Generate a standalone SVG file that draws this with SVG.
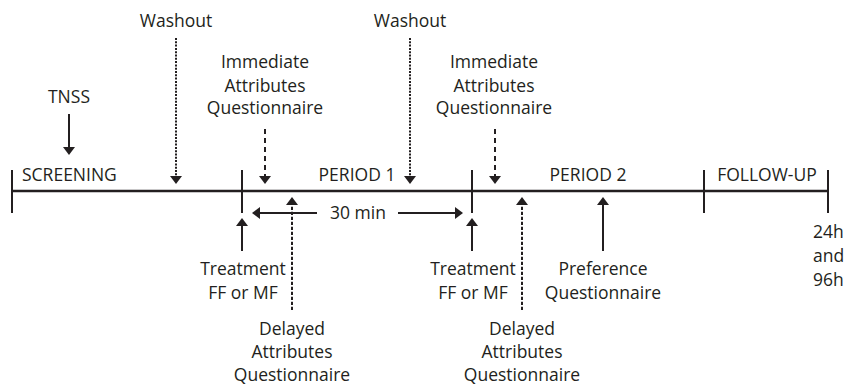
<svg xmlns="http://www.w3.org/2000/svg" width="847" height="388" viewBox="0 0 847 388">
<style>
text{font-family:"Open Sans","Noto Sans","Liberation Sans",sans-serif;font-size:17.5px;fill:#231f20}
.m{text-anchor:middle}
.ln{stroke:#231f20;stroke-width:2;fill:none}
.tl{stroke:#231f20;stroke-width:2.3;fill:none}
.dot{stroke-dasharray:2 1.3}
.dash{stroke-dasharray:5 4}
.dash2{stroke-dasharray:3.3 1.7}
</style>
<defs>
<marker id="ah" viewBox="0 0 8 12" markerWidth="8" markerHeight="12" refX="2" refY="6" orient="auto" markerUnits="userSpaceOnUse">
<path d="M0,0 L8,6 L0,12 z" fill="#231f20"/>
</marker>
</defs>
<g id="timeline">
<line class="tl" x1="12" y1="191" x2="828" y2="191"/>
<line class="ln" x1="12" y1="170" x2="12" y2="213"/>
<line class="ln" x1="242" y1="170" x2="242" y2="213"/>
<line class="ln" x1="472" y1="170" x2="472" y2="213"/>
<line class="ln" x1="704" y1="170" x2="704" y2="213"/>
<line class="ln" x1="828" y1="170" x2="828" y2="213"/>
</g>
<g id="phases">
<text x="22" y="181">SCREENING</text>
<text class="m" x="357" y="181">PERIOD 1</text>
<text class="m" x="588" y="181">PERIOD 2</text>
<text class="m" x="767" y="181">FOLLOW-UP</text>
</g>
<g id="tnss"><text class="m" x="69" y="103">TNSS</text></g>
<g id="washout1"><text class="m" x="176" y="27">Washout</text></g>
<g id="washout2"><text class="m" x="410" y="27">Washout</text></g>
<g id="immediate1">
<text class="m" x="265" y="68">Immediate</text>
<text class="m" x="265" y="92">Attributes</text>
<text class="m" x="265" y="114">Questionnaire</text>
</g>
<g id="immediate2">
<text class="m" x="494" y="68">Immediate</text>
<text class="m" x="494" y="92">Attributes</text>
<text class="m" x="494" y="114">Questionnaire</text>
</g>
<g id="treatment1">
<text class="m" x="243" y="275">Treatment</text>
<text class="m" x="243" y="299">FF or MF</text>
</g>
<g id="treatment2">
<text class="m" x="473" y="275">Treatment</text>
<text class="m" x="473" y="299">FF or MF</text>
</g>
<g id="delayed1">
<text class="m" x="292" y="335">Delayed</text>
<text class="m" x="292" y="358">Attributes</text>
<text class="m" x="292" y="381">Questionnaire</text>
</g>
<g id="delayed2">
<text class="m" x="522" y="335">Delayed</text>
<text class="m" x="522" y="358">Attributes</text>
<text class="m" x="522" y="381">Questionnaire</text>
</g>
<g id="preference">
<text class="m" x="603" y="275">Preference</text>
<text class="m" x="603" y="299">Questionnaire</text>
</g>
<g id="followup-times">
<text x="813" y="238">24h</text>
<text x="813" y="262">and</text>
<text x="813" y="286">96h</text>
</g>
<g id="duration"><text class="m" x="358" y="219">30 min</text></g>
<g id="connectors">
<line class="ln" x1="69" y1="114" x2="69" y2="149" marker-end="url(#ah)"/>
<line class="ln dot" x1="176" y1="38" x2="176" y2="178" marker-end="url(#ah)"/>
<line class="ln dot" x1="410" y1="38" x2="410" y2="178" marker-end="url(#ah)"/>
<line class="ln dash" x1="265" y1="129" x2="265" y2="178" marker-end="url(#ah)"/>
<line class="ln dash" x1="495" y1="129" x2="495" y2="178" marker-end="url(#ah)"/>
<line class="ln" x1="242" y1="251" x2="242" y2="224" marker-end="url(#ah)"/>
<line class="ln" x1="472" y1="251" x2="472" y2="224" marker-end="url(#ah)"/>
<line class="ln dash2" x1="292" y1="310" x2="292" y2="203" marker-end="url(#ah)"/>
<line class="ln dash2" x1="522" y1="310" x2="522" y2="203" marker-end="url(#ah)"/>
<line class="ln" x1="603" y1="251" x2="603" y2="203" marker-end="url(#ah)"/>
<line class="ln" x1="317" y1="213" x2="258" y2="213" marker-end="url(#ah)"/>
<line class="ln" x1="398" y1="213" x2="457" y2="213" marker-end="url(#ah)"/>
</g>
</svg>
